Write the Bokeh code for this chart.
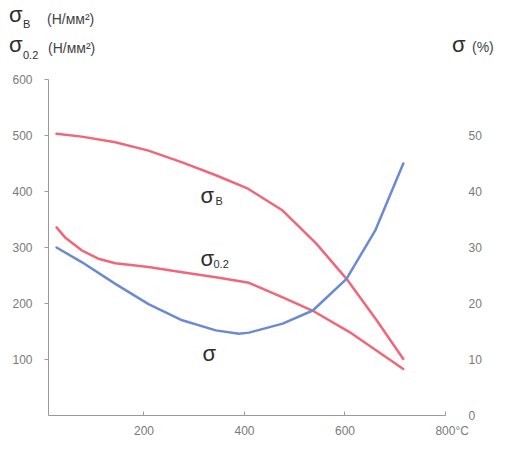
from bokeh.plotting import figure
from bokeh.models import LinearAxis, Range1d, FixedTicker, Label, Div
from bokeh.layouts import column
from bokeh.embed import file_html
from bokeh.resources import INLINE

# ---- data ----
temp_b = [26, 76, 143, 209, 276, 343, 407, 476, 543, 603, 663, 716]
sigma_b = [503, 498, 488, 473, 452, 429, 405, 366, 307, 244, 170, 101]

temp_02 = [26, 43, 76, 109, 143, 209, 276, 343, 409, 476, 536, 609, 716]
sigma_02 = [336, 318, 295, 280, 272, 265, 256, 247, 237, 211, 187, 149, 83]

temp_el = [26, 76, 143, 209, 276, 343, 389, 409, 476, 536, 603, 660, 716]
elong = [30.0, 27.4, 23.5, 19.9, 17.0, 15.2, 14.6, 14.8, 16.4, 18.75, 24.4, 33.0, 45.0]

x_ticks = [200, 400, 600, 800]
left_ticks = [100, 200, 300, 400, 500, 600]
right_ticks = [0, 10, 20, 30, 40, 50]

FONT = "Liberation Sans"
RED = "#f2667a"
BLUE = "#6a8ad6"
TXT = "#2e2e2e"
GRAY = "#7a7a7a"

HEAD_H = 71
FL, FT, FW, FH, FR, FB = 48, 79 - HEAD_H, 397, 336, 54, 28
X0, X1, Y0, Y1 = 10, 800, 0, 600
TOTAL_W = FL + FW + FR

p = figure(frame_width=FW, frame_height=FH,
           min_border_left=FL, min_border_top=FT,
           min_border_right=FR, min_border_bottom=FB,
           x_range=Range1d(X0, X1), y_range=Range1d(Y0, Y1),
           output_backend="svg", toolbar_location=None)
p.outline_line_color = None
p.grid.visible = False
p.background_fill_color = "white"
p.border_fill_color = "white"

p.extra_y_ranges = {"pct": Range1d(0, 60)}

def style_axis(ax):
    ax.axis_line_color = "#9a9a9a"
    ax.axis_line_width = 1
    ax.major_tick_line_color = "#9a9a9a"
    ax.minor_tick_line_color = None
    ax.major_label_text_font = FONT
    ax.major_label_text_font_size = "12px"
    ax.major_label_text_color = GRAY

xa = p.xaxis[0]
style_axis(xa)
xa.ticker = FixedTicker(ticks=x_ticks)
xa.major_tick_in = 4
xa.major_tick_out = 0
xa.major_label_standoff = 8
xa.major_label_overrides = {800: "\u00a0\u00a0\u00a0\u00a0800°C"}

ya = p.yaxis[0]
style_axis(ya)
ya.ticker = FixedTicker(ticks=left_ticks)
ya.major_tick_in = 0
ya.major_tick_out = 4
ya.major_label_standoff = 12

ra = LinearAxis(y_range_name="pct", ticker=FixedTicker(ticks=right_ticks))
style_axis(ra)
ra.axis_line_color = None
ra.major_tick_line_color = None
ra.major_label_standoff = 17
p.add_layout(ra, "right")

p.line(temp_b, sigma_b, line_color=RED, line_width=2.5, line_cap="round", line_join="round")
p.line(temp_02, sigma_02, line_color=RED, line_width=2.5, line_cap="round", line_join="round")
p.line(temp_el, elong, line_color=BLUE, line_width=2.5, line_cap="round", line_join="round",
       y_range_name="pct")

# in-plot curve labels (canvas coords of the figure: top-left origin)
def txt(s, px, py, size, color=TXT):
    p.add_layout(Label(x=px, y=py - HEAD_H, x_units="canvas", y_units="canvas",
                       text=s, text_font=FONT,
                       text_font_size=size, text_color=color,
                       text_align="left", text_baseline="alphabetic"))

txt("σ", 200, 195, "22px")
txt("B", 215, 200, "11px")
txt("σ", 200, 258, "22px")
txt("0.2", 213, 263, "11px")
txt("σ", 202, 353, "22px")

# header texts (HTML, placed by baseline)
def span(s, left, baseline, size, color=TXT):
    top = baseline - 0.8465 * size
    return (f'<span style="position:absolute;left:{left}px;top:{top:.1f}px;'
            f'font-size:{size}px;line-height:{size}px;color:{color};'
            f'white-space:nowrap;">{s}</span>')

parts = [
    span("σ", 9, 23, 22),
    span("B", 23, 28, 11),
    span("(Н/мм²)", 47, 24, 14, "#444444"),
    span("σ", 9, 53, 22),
    span("0.2", 23, 59, 11),
    span("(Н/мм²)", 48, 53, 14, "#444444"),
    span("σ", 452, 53, 22),
    span("(%)", 472, 52, 14, "#444444"),
]
head_html = (f'<div style="position:relative;width:{TOTAL_W}px;height:{HEAD_H}px;'
             f'font-family:\'{FONT}\';margin:0;padding:0;">' + "".join(parts) + "</div>")
head = Div(text=head_html, width=TOTAL_W, height=HEAD_H, margin=0)

layout = column(head, p, spacing=0)
open("out.html", "w").write(file_html(layout, INLINE))
